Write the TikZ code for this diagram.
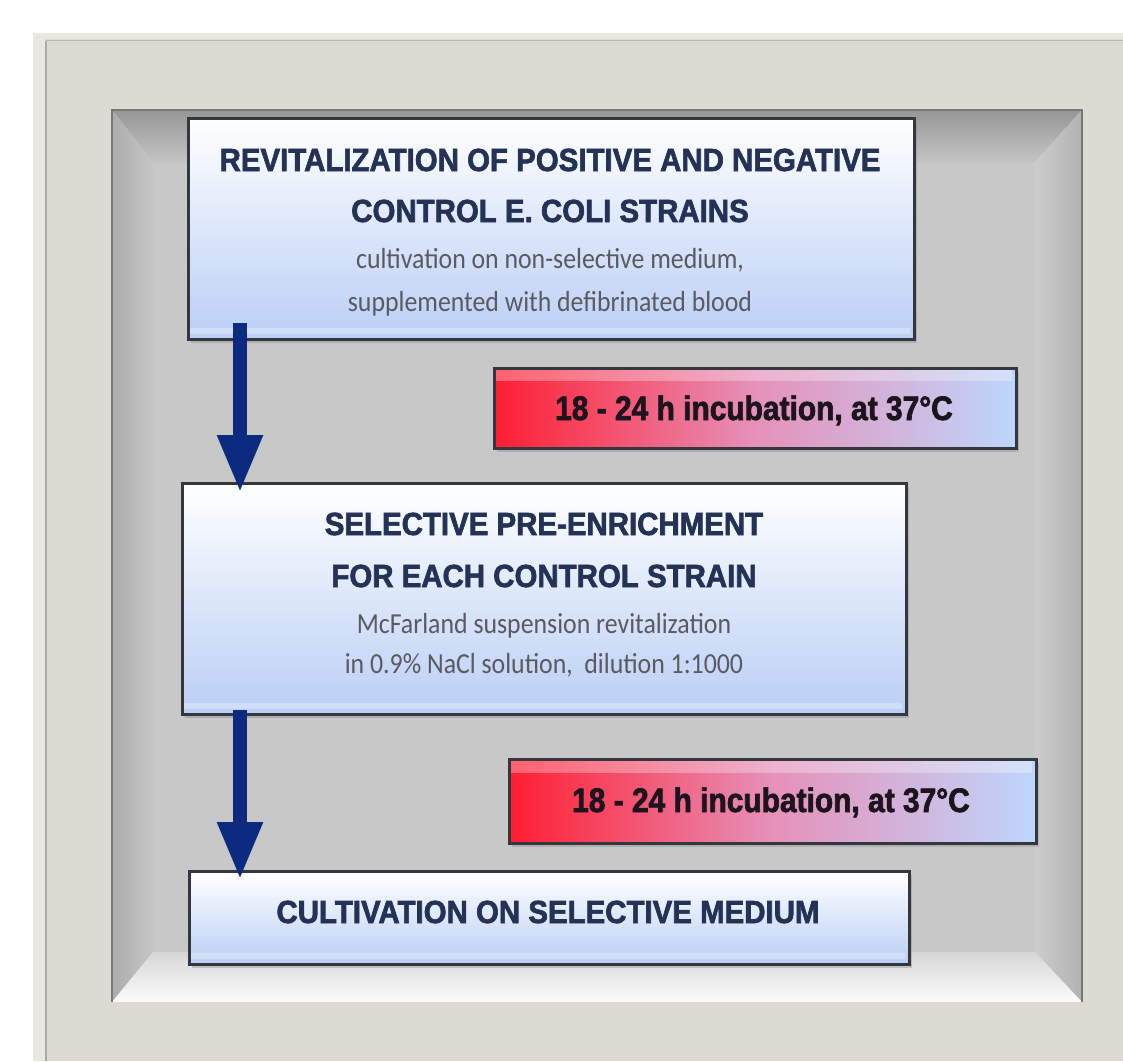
\documentclass[tikz,border=0pt]{standalone}
\usepackage{fontspec}
\newfontfamily\titlefont{Liberation Sans}[FakeStretch=0.92, BoldFeatures={FakeBold=2}]
\newfontfamily\incubfont{Liberation Sans}[FakeStretch=0.88, BoldFeatures={FakeBold=2}]
\newfontfamily\subfont{Carlito}[FakeStretch=0.89]
\usetikzlibrary{arrows.meta,shadows}
\definecolor{panelc}{RGB}{220,218,211}
\definecolor{panellight}{RGB}{232,231,226}
\definecolor{panelline}{RGB}{170,170,166}
\definecolor{flatc}{RGB}{200,200,200}
\definecolor{framec}{RGB}{120,120,120}
\definecolor{boxborder}{RGB}{52,56,62}
\definecolor{boxblue}{RGB}{186,206,245}
\definecolor{redc}{RGB}{255,30,50}
\definecolor{pinkc}{RGB}{230,145,185}
\definecolor{bluec}{RGB}{190,214,252}
\definecolor{titlec}{RGB}{36,50,86}
\definecolor{subc}{RGB}{90,90,96}
\definecolor{incubc}{RGB}{30,20,30}
\definecolor{arrowc}{RGB}{12,42,128}
\begin{document}
\begin{tikzpicture}[x=1pt,y=-1pt,
  stepbox/.style={draw=boxborder, line width=3pt, top color=white, bottom color=boxblue,
    inner sep=0pt, anchor=north west,
    drop shadow={opacity=0.35, shadow xshift=2pt, shadow yshift=-3pt}},
  incubbox/.style={draw=boxborder, line width=3pt, left color=redc, right color=bluec,
    middle color=pinkc, inner sep=0pt, anchor=north west,
    drop shadow={opacity=0.35, shadow xshift=2pt, shadow yshift=-3pt}},
  gloss/.style={white, opacity=0.3},
  titletext/.style={anchor=base, text=titlec, font=\titlefont\bfseries\fontsize{32}{38}\selectfont},
  subtext/.style={anchor=base, text=subc, font=\subfont\fontsize{29}{34}\selectfont},
  incubtext/.style={anchor=base, text=incubc, font=\incubfont\bfseries\fontsize{34}{40}\selectfont},
  flowarrow/.style={draw=arrowc, line width=14pt, -{Triangle[length=58pt, width=42pt]}}
]
\useasboundingbox (0,0) rectangle (1123,1061);
\fill[white] (0,0) rectangle (1123,1061);
% outer panel
\fill[panelc] (33,33) rectangle (1123,1061);
\fill[panellight] (33,33) rectangle (45,1061);
\fill[panellight] (33,33) rectangle (1123,39);
\draw[panelline, line width=2pt] (46,41) -- (46,1061);
\draw[panelline!70!panelc, line width=1.5pt] (46,40.5) -- (1123,40.5);
% bevelled frame
\fill[flatc] (153,162) rectangle (1035,952);
\shade[top color={rgb,255:red,150;green,150;blue,150}, bottom color={rgb,255:red,196;green,196;blue,196}]
  (112,110) -- (1082,110) -- (1035,162) -- (153,162) -- cycle;
\shade[left color={rgb,255:red,172;green,172;blue,172}, right color={rgb,255:red,198;green,198;blue,198}]
  (112,110) -- (153,162) -- (153,952) -- (112,1002) -- cycle;
\shade[left color={rgb,255:red,204;green,204;blue,204}, right color={rgb,255:red,178;green,178;blue,178}]
  (1082,110) -- (1082,1002) -- (1035,952) -- (1035,162) -- cycle;
\shade[top color={rgb,255:red,214;green,214;blue,214}, bottom color={rgb,255:red,252;green,252;blue,252}]
  (112,1002) -- (1082,1002) -- (1035,952) -- (153,952) -- cycle;
\draw[framec, line width=1.5pt] (112,1002) -- (112,110) -- (1082,110) -- (1082,1002);
\draw[white!85!black, line width=1pt] (112,1002) -- (1082,1002);
% step boxes
\node[stepbox, minimum width=726pt, minimum height=221pt] (box1) at (187,117) {};
\fill[gloss] (190,328) rectangle (910,334);
\node[titletext] (t1a) at (550,171) {REVITALIZATION OF POSITIVE AND NEGATIVE};
\node[titletext] (t1b) at (550,222) {CONTROL E. COLI STRAINS};
\node[subtext] (s1a) at (550,268) {cultivation on non-selective medium,};
\node[subtext] (s1b) at (550,311) {supplemented with defibrinated blood};

\node[incubbox, minimum width=522pt, minimum height=80pt] (r1) at (493,367) {};
\fill[gloss] (496,370) rectangle (1012,381);
\node[incubtext] (r1t) at (754,420) {18 - 24 h incubation, at 37°C};

\node[stepbox, minimum width=724pt, minimum height=231pt] (box2) at (181,482) {};
\fill[gloss] (184,703) rectangle (902,709);
\node[titletext] (t2a) at (544,535) {SELECTIVE PRE-ENRICHMENT};
\node[titletext] (t2b) at (544,587) {FOR EACH CONTROL STRAIN};
\node[subtext] (s2a) at (544,633) {McFarland suspension revitalization};
\node[subtext] (s2b) at (544,673) {in 0.9\% NaCl solution,\ \ dilution 1:1000};

\node[incubbox, minimum width=527pt, minimum height=84pt] (r2) at (508,758) {};
\fill[gloss] (511,761) rectangle (1032,773);
\node[incubtext] (r2t) at (771,812) {18 - 24 h incubation, at 37°C};

\node[stepbox, minimum width=720pt, minimum height=93pt] (box3) at (188,870) {};
\fill[gloss] (191,953) rectangle (905,959);
\node[titletext] (t3) at (548,923) {CULTIVATION ON SELECTIVE MEDIUM};

% arrows
\coordinate (a1s) at (240,323);
\coordinate (a1e) at (240,493);
\coordinate (a2s) at (240,710);
\coordinate (a2e) at (240,880);
\draw[flowarrow] (a1s) -- (a1e);
\draw[flowarrow] (a2s) -- (a2e);
\end{tikzpicture}
\end{document}
